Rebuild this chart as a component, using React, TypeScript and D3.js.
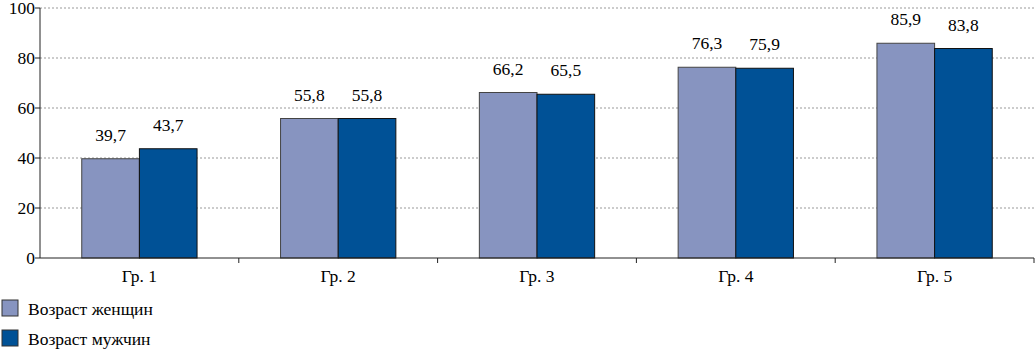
import React from "react";
import * as d3 from "d3";

const categories = ["Гр. 1", "Гр. 2", "Гр. 3", "Гр. 4", "Гр. 5"];
const women = [39.7, 55.8, 66.2, 76.3, 85.9];
const men = [43.7, 55.8, 65.5, 75.9, 83.8];
const yTicks = [0, 20, 40, 60, 80, 100];
const seriesNames = ["Возраст женщин", "Возраст мужчин"];
const colors = ["#8794C0", "#005196"];

const W = 1035;
const H = 352;
const left = 40;
const right = 1034;
const top = 8;
const bottom = 258;
const font = '"Liberation Serif"';

export default function App() {
  const x = d3.scaleBand<string>().domain(categories).range([left, right]).paddingInner(0).paddingOuter(0);
  const y = d3.scaleLinear().domain([0, 100]).range([bottom, top]);
  const bw = x.bandwidth() * 0.29;
  const fmt = (v: number) => v.toFixed(1).replace(".", ",");
  const series = [women, men];
  const fs = 17.5;
  const ts = { fontFamily: font };

  return (
    <svg width={W} height={H} style={{ position: "absolute", left: 0, top: 0 }}>
      {yTicks.filter((t) => t > 0).map((t) => (
        <line key={t} x1={left} x2={right} y1={y(t)} y2={y(t)} stroke="#999" strokeDasharray="2,2" strokeWidth={1} />
      ))}
      {categories.map((c, i) =>
        series.map((s, j) => {
          const cx = (x(c) as number) + x.bandwidth() / 2;
          const x0 = cx - bw + j * bw;
          return (
            <g key={c + j}>
              <rect x={x0} y={y(s[i])} width={bw} height={bottom - y(s[i])} fill={colors[j]} stroke={j === 0 ? "#444" : "#111"} strokeWidth={1} />
              <text x={x0 + bw / 2} y={y(s[i]) - 18} textAnchor="middle" fontSize={fs} fill="#000" style={ts}>
                {fmt(s[i])}
              </text>
            </g>
          );
        })
      )}
      <line x1={left} x2={left} y1={top} y2={bottom} stroke="#222" strokeWidth={1} />
      <line x1={left} x2={right} y1={bottom} y2={bottom} stroke="#222" strokeWidth={1} />
      {yTicks.map((t) => (
        <g key={t}>
          <line x1={left - 5} x2={left} y1={y(t)} y2={y(t)} stroke="#222" />
          <text x={left - 5} y={y(t) + 6} textAnchor="end" fontSize={fs} style={ts}>{t}</text>
        </g>
      ))}
      {categories.map((c, i) => (
        <g key={c}>
          <line x1={(x(c) as number) + x.bandwidth()} x2={(x(c) as number) + x.bandwidth()} y1={bottom} y2={bottom + 5} stroke="#222" />
          <text x={(x(c) as number) + x.bandwidth() / 2} y={282} textAnchor="middle" fontSize={fs} style={ts}>{c}</text>
        </g>
      ))}
      {seriesNames.map((n, j) => (
        <g key={n}>
          <rect x={2} y={300 + j * 30} width={16} height={16} fill={colors[j]} stroke="#333" />
          <text x={28} y={315 + j * 30} fontSize={fs} style={ts}>{n}</text>
        </g>
      ))}
    </svg>
  );
}
